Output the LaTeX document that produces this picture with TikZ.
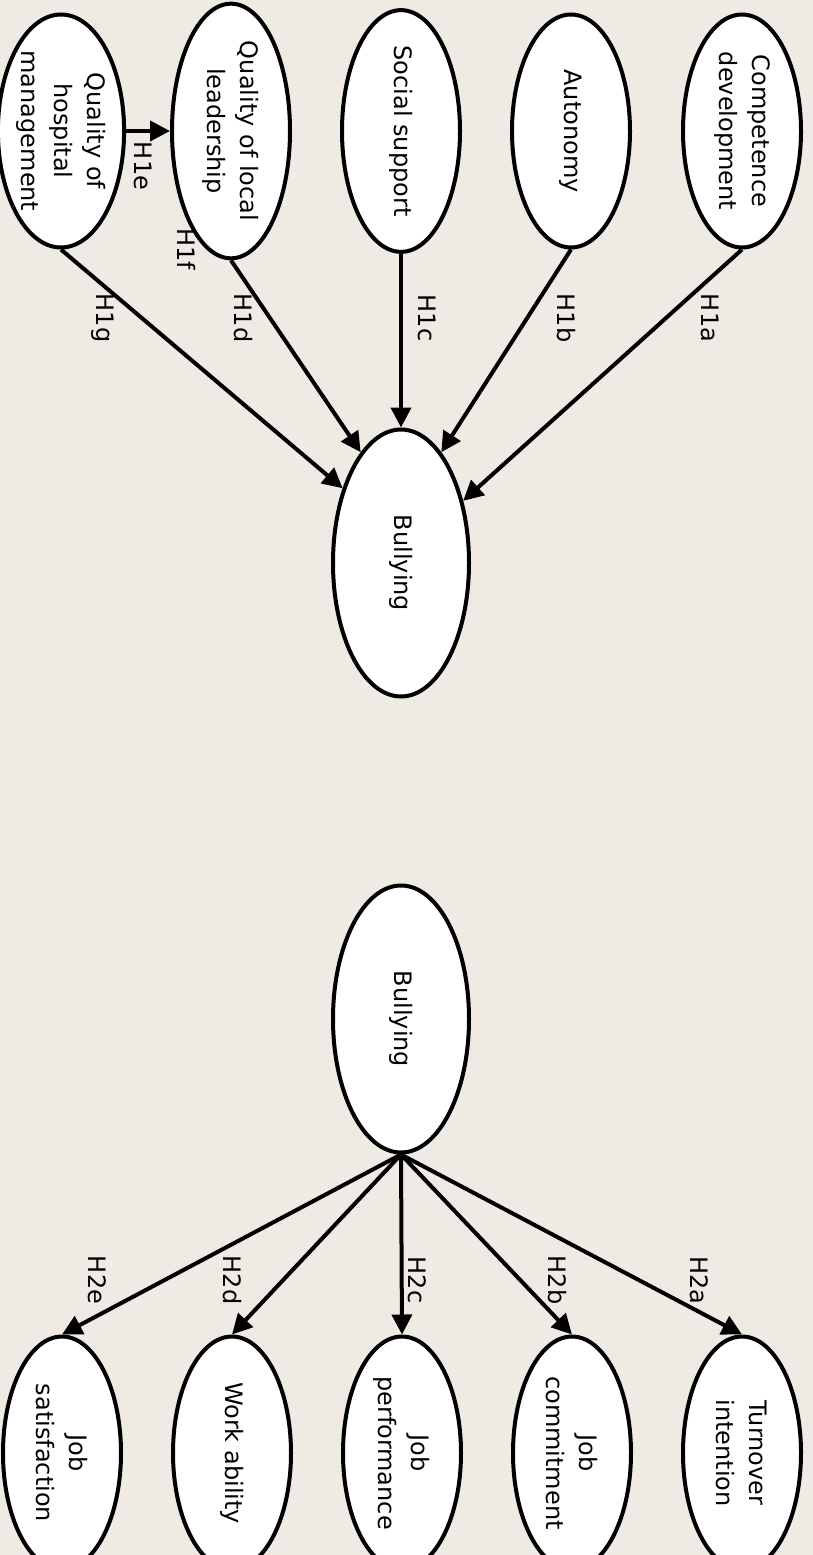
\documentclass[tikz,border=0pt]{standalone}
\usepackage{fontspec}
\setmainfont{DejaVu Sans}
\usetikzlibrary{shapes.geometric,arrows.meta}
\definecolor{paper}{RGB}{239,235,228}

\begin{document}
\begin{tikzpicture}[x=1pt,y=-1pt,
  txt/.style={font=\fontsize{24}{33}\selectfont, align=center},
  factor/.style={txt, ellipse, draw, line width=4pt, fill=white, rotate=-90,
                 minimum width=233pt, minimum height=118pt, inner sep=0pt},
  bully/.style={txt, ellipse, draw, line width=4pt, fill=white, rotate=-90,
                minimum width=267pt, minimum height=136pt, inner sep=0pt},
  hyp/.style={txt, rotate=-90, inner sep=0pt},
  link/.style={line width=4pt, -{Triangle[length=20pt,width=20pt]}}
]
\useasboundingbox (0,0) rectangle (813,1555);
\clip (0,0) rectangle (813,1555);
\fill[paper] (0,0) rectangle (813,1555);

% ---- antecedents of bullying ----
\node[factor] (qhm) at (61,131)  {Quality of\\hospital\\management};
\node[factor] (qll) at (231,131) {Quality of local\\leadership};
\node[factor] (ss)  at (401,131) {Social support};
\node[factor] (au)  at (571,131) {Autonomy};
\node[factor] (cd)  at (742,131) {Competence\\development};
\node[bully]  (bt)  at (401,563) {Bullying};

\draw[link] (cd.east)  -- (bt.135);
\draw[link] (au.east)  -- (bt.160);
\draw[link] (ss.east)  -- (bt.west);
\draw[link] (qll.east) -- (bt.200);
\draw[link] (qhm.east) -- (bt.218);
\draw[link] (qhm.north) -- (qll.south);

\node[hyp] (h1a) at (710,318) {H1a};
\node[hyp] (h1b) at (566,318) {H1b};
\node[hyp] (h1c) at (427,318) {H1c};
\node[hyp] (h1d) at (243,318) {H1d};
\node[hyp] (h1g) at (103,318) {H1g};
\node[hyp] (h1e) at (143,166) {H1e};
\node[hyp] (h1f) at (187,249) {H1f};

% ---- outcomes of bullying ----
\node[bully]  (bb) at (401,1019) {Bullying};
\node[factor] (js) at (62,1453)  {Job\\satisfaction};
\node[factor] (wa) at (232,1453) {Work ability};
\node[factor] (jp) at (402,1453) {Job\\performance};
\node[factor] (jc) at (572,1453) {Job\\commitment};
\node[factor] (ti) at (742,1453) {Turnover\\intention};

\draw[link] (bb.east) -- (ti.west);
\draw[link] (bb.east) -- (jc.west);
\draw[link] (bb.east) -- (jp.west);
\draw[link] (bb.east) -- (wa.west);
\draw[link] (bb.east) -- (js.west);

\node[hyp] (h2a) at (699,1280) {H2a};
\node[hyp] (h2b) at (557,1280) {H2b};
\node[hyp] (h2c) at (417,1280) {H2c};
\node[hyp] (h2d) at (232,1280) {H2d};
\node[hyp] (h2e) at (97,1280)  {H2e};
\end{tikzpicture}
\end{document}
